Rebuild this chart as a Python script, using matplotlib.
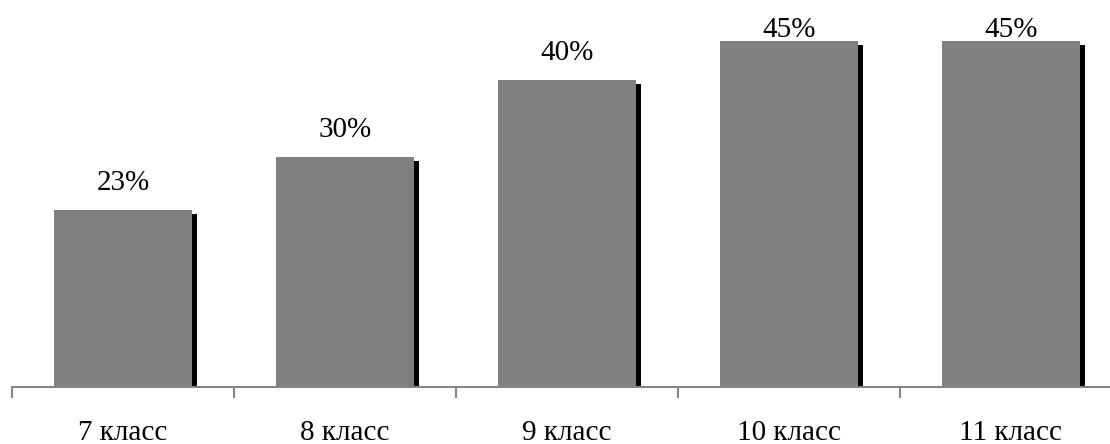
import matplotlib
matplotlib.use("Agg")
import matplotlib.pyplot as plt
import matplotlib.transforms as mtransforms
import numpy as np

grades = ["7 класс", "8 класс", "9 класс", "10 класс", "11 класс"]
shares = [23, 30, 40, 45, 45]

plt.rcParams["font.family"] = ["Liberation Serif", "DejaVu Serif"]

W, H = 1110, 444
fig = plt.figure(figsize=(W / 100, H / 100), dpi=100)
# axes spans 5 slots of 222 px starting 12 px from the left; right end runs off the figure
ax = fig.add_axes([12 / W, 57 / H, 1110 / W, 387 / H])
ymax = 50.4
ax.set_xlim(-0.5, len(grades) - 0.5)
ax.set_ylim(0, ymax)
px_per_unit = 387 / ymax

x = np.arange(len(grades))
width = 0.626

# black drop shadow shifted a few px right and down
shift = mtransforms.ScaledTranslation(5 / 100, -4 / 100, fig.dpi_scale_trans)
ax.bar(x, shares, width=width, color="black", transform=ax.transData + shift, zorder=1)
ax.bar(x, shares, width=width, color="#808080", zorder=2)

# value labels 20 px above the bar, kept inside the top of the plot
limit = ymax - 37 / px_per_unit
for xi, v in zip(x, shares):
    y = min(v + 20 / px_per_unit, limit)
    ax.text(xi, y, f"{v}%", ha="center", va="baseline", fontsize=21, color="black")

for xi, name in zip(x, grades):
    ax.annotate(name, xy=(xi, 0), xycoords=("data", "axes fraction"),
                xytext=(0, -53 * 0.72), textcoords="offset points",
                ha="center", va="baseline", fontsize=21, color="black")

for side in ("top", "right", "left"):
    ax.spines[side].set_visible(False)
ax.spines["bottom"].set_color("#868686")
ax.spines["bottom"].set_linewidth(1.5)
ax.spines["bottom"].set_zorder(3)
ax.set_yticks([])
ax.set_xticks(np.arange(-0.5, len(grades), 1.0))
ax.set_xticklabels([])
ax.tick_params(axis="x", length=8, width=1.5, color="#868686", direction="out")

fig.savefig("out.png", dpi=100)
